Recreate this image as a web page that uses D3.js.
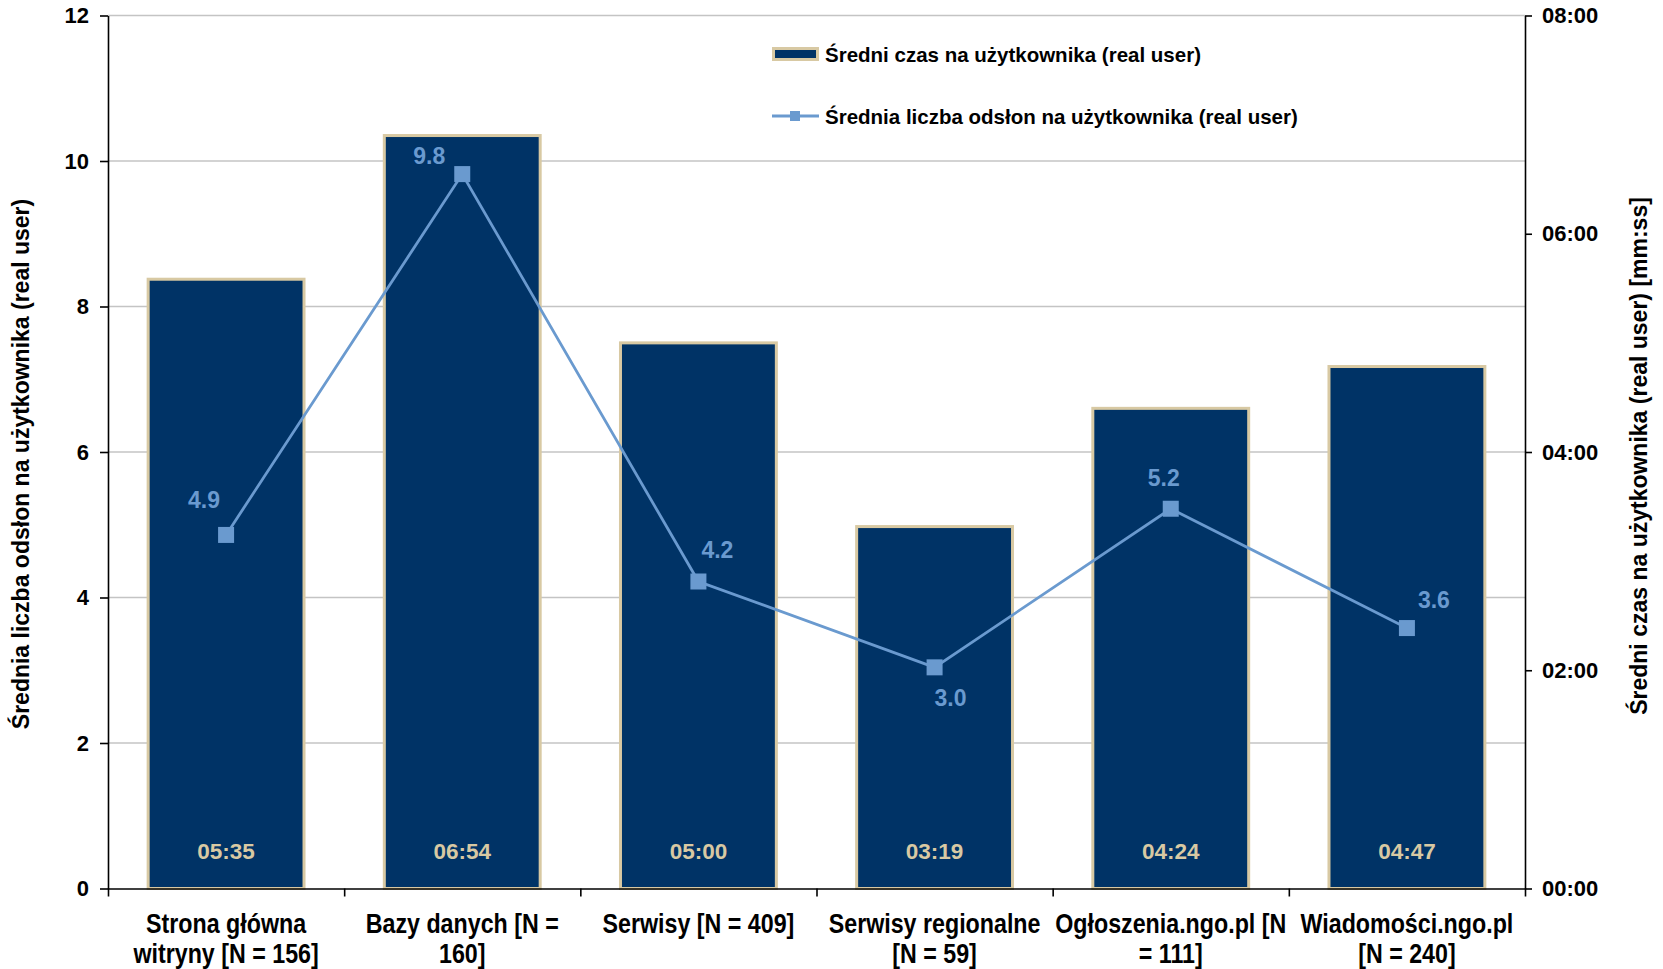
<!DOCTYPE html>
<html>
<head>
<meta charset="utf-8">
<script src="https://cdn.jsdelivr.net/npm/d3@7"></script>
<style>
  html, body { margin: 0; padding: 0; background: #fff; }
  svg { display: block; }
  text { font-family: "Liberation Sans", Arial, sans-serif; font-weight: bold; }
</style>
</head>
<body>
<svg id="chart" width="1663" height="969"></svg>
<script>
// ---- data ----
const categoryLines = [
  ["Strona główna", "witryny [N = 156]"],
  ["Bazy danych [N =", "160]"],
  ["Serwisy [N = 409]"],
  ["Serwisy regionalne", "[N = 59]"],
  ["Ogłoszenia.ngo.pl [N", "= 111]"],
  ["Wiadomości.ngo.pl", "[N = 240]"]
];
const categories = categoryLines.map(l => l.join(" "));
// average time per user, seconds (bars, right axis)
const avgTimeSec = [335, 414, 300, 199, 264, 287];
// average page views per user (line, left axis)
const avgViews = [4.86, 9.82, 4.22, 3.04, 5.22, 3.58];
const leftTicks = [0, 2, 4, 6, 8, 10, 12];
const rightTicksSec = [0, 120, 240, 360, 480];
const seriesNames = ["Średni czas na użytkownika (real user)", "Średnia liczba odsłon na użytkownika (real user)"];
const leftTitle = "Średnia liczba odsłon na użytkownika (real user)";
const rightTitle = "Średni czas na użytkownika (real user) [mm:ss]";
// label placement (dx, dy) for the line's value labels
const viewLabelOffsets = [[-22, -35], [-33, -18], [19, -31], [16, 31], [-7, -31], [27, -28]];

// ---- styles ----
const barFill = "#003366", barStroke = "#D8C9A3", lineColor = "#6A9ACF", gridColor = "#C4C4C4";

const svg = d3.select("#chart");
const L = 108, R = 1525, T = 15.5, B = 888.5;

const x = d3.scaleBand().domain(categories).range([L, R]).paddingInner(0.34).paddingOuter(0.17);
const xb = d3.scaleLinear().domain([0, categories.length]).range([L, R]);
const yL = d3.scaleLinear().domain([0, 12]).range([B, T]);
const yR = d3.scaleLinear().domain([0, 480]).range([B, T]);

const fmtTime = s => String(Math.floor(s / 60)).padStart(2, "0") + ":" + String(Math.round(s % 60)).padStart(2, "0");

// gridlines
svg.append("g")
  .selectAll("line").data(leftTicks.filter(d => d > 0)).join("line")
  .attr("x1", L).attr("x2", R)
  .attr("y1", d => yL(d)).attr("y2", d => yL(d))
  .attr("stroke", gridColor).attr("stroke-width", 1.6);

// bars
svg.append("g")
  .selectAll("rect").data(avgTimeSec).join("rect")
  .attr("x", (d, i) => x(categories[i]))
  .attr("width", x.bandwidth())
  .attr("y", d => yR(d))
  .attr("height", d => B - yR(d))
  .attr("fill", barFill)
  .attr("stroke", barStroke).attr("stroke-width", 3);

// bar labels
svg.append("g")
  .selectAll("text").data(avgTimeSec).join("text")
  .attr("x", (d, i) => x(categories[i]) + x.bandwidth() / 2)
  .attr("y", 851)
  .attr("text-anchor", "middle").attr("dominant-baseline", "central")
  .attr("font-size", 22.5).attr("fill", barStroke)
  .text(d => fmtTime(d));

// line
const cx = i => x(categories[i]) + x.bandwidth() / 2;
svg.append("path")
  .datum(avgViews)
  .attr("fill", "none").attr("stroke", lineColor).attr("stroke-width", 2.8)
  .attr("d", d3.line().x((d, i) => cx(i)).y(d => yL(d)));

const ms = 16;
svg.append("g")
  .selectAll("rect").data(avgViews).join("rect")
  .attr("x", (d, i) => cx(i) - ms / 2).attr("y", d => yL(d) - ms / 2)
  .attr("width", ms).attr("height", ms).attr("fill", lineColor);

svg.append("g")
  .selectAll("text").data(avgViews).join("text")
  .attr("x", (d, i) => cx(i) + viewLabelOffsets[i][0])
  .attr("y", (d, i) => yL(d) + viewLabelOffsets[i][1])
  .attr("text-anchor", "middle").attr("dominant-baseline", "central")
  .attr("font-size", 23).attr("fill", lineColor)
  .text(d => d.toFixed(1));

// axes
const styleAxis = g => {
  g.selectAll(".domain").attr("stroke", "#000").attr("stroke-width", 1.6);
  g.selectAll(".tick line").attr("stroke", "#000").attr("stroke-width", 1.6);
  g.selectAll("text").attr("font-size", 22).attr("fill", "#000")
    .attr("font-family", "'Liberation Sans', Arial, sans-serif").attr("font-weight", "bold");
};

svg.append("g").attr("transform", `translate(${L},0)`)
  .call(d3.axisLeft(yL).tickValues(leftTicks).tickFormat(d3.format("d")).tickSizeInner(8).tickSizeOuter(0).tickPadding(11))
  .call(styleAxis);

svg.append("g").attr("transform", `translate(${R},0)`)
  .call(d3.axisRight(yR).tickValues(rightTicksSec).tickFormat(fmtTime).tickSizeInner(7).tickSizeOuter(0).tickPadding(10))
  .call(styleAxis);

svg.append("g").attr("transform", `translate(0,${B})`)
  .call(d3.axisBottom(xb).tickValues(d3.range(0, categories.length + 1)).tickFormat("").tickSizeInner(8).tickSizeOuter(0))
  .call(styleAxis);

// category labels (condensed bold, like the original)
const catG = svg.append("g").selectAll("text").data(categoryLines).join("text")
  .attr("text-anchor", "middle")
  .attr("font-size", 28).attr("fill", "#000")
  .attr("transform", (d, i) => `translate(${cx(i)},0) scale(0.83,1)`);
catG.selectAll("tspan").data(d => d).join("tspan")
  .attr("x", 0)
  .attr("y", (d, j) => 923 + j * 30)
  .attr("dominant-baseline", "central")
  .text(d => d);

// axis titles
svg.append("text")
  .attr("transform", "translate(21,464) rotate(-90)")
  .attr("text-anchor", "middle").attr("dominant-baseline", "central")
  .attr("font-size", 23).attr("fill", "#000")
  .text(leftTitle);
svg.append("text")
  .attr("transform", "translate(1639,456) rotate(-90)")
  .attr("text-anchor", "middle").attr("dominant-baseline", "central")
  .attr("font-size", 23).attr("fill", "#000")
  .text(rightTitle);

// legend
const lg = svg.append("g");
lg.append("rect").attr("x", 773.5).attr("y", 48.5).attr("width", 44).attr("height", 11)
  .attr("fill", barFill).attr("stroke", barStroke).attr("stroke-width", 3);
lg.append("text").attr("x", 825).attr("y", 54.5).attr("dominant-baseline", "central")
  .attr("font-size", 20.5).attr("fill", "#000").text(seriesNames[0]);
lg.append("line").attr("x1", 772).attr("x2", 819).attr("y1", 116).attr("y2", 116)
  .attr("stroke", lineColor).attr("stroke-width", 2.8);
lg.append("rect").attr("x", 790).attr("y", 111).attr("width", 10).attr("height", 10).attr("fill", lineColor);
lg.append("text").attr("x", 825).attr("y", 116).attr("dominant-baseline", "central")
  .attr("font-size", 20.5).attr("fill", "#000").text(seriesNames[1]);
</script>
</body>
</html>
